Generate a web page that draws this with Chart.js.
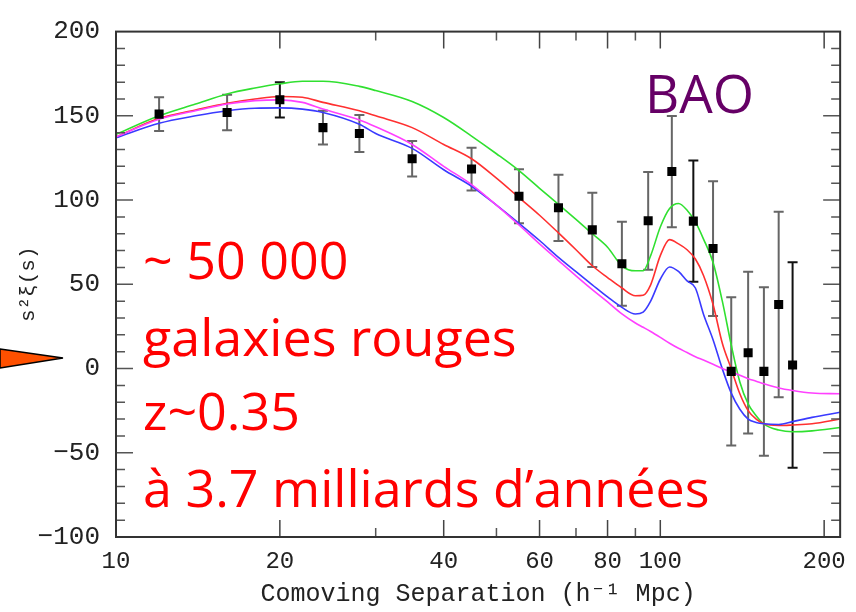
<!DOCTYPE html>
<html>
<head>
<meta charset="utf-8">
<script src="https://cdn.jsdelivr.net/npm/chart.js@4/dist/chart.umd.min.js"></script>
<style>
  html, body { margin: 0; padding: 0; background: #fff; }
  #wrap { position: relative; width: 856px; height: 612px; }
  #wrap canvas { position: absolute; left: 0; top: 0; }
  #overlay { position: absolute; left: 0; top: 0; pointer-events: none; }
</style>
</head>
<body>
<div id="wrap">
  <canvas id="c" width="856" height="612"></canvas>
  <svg id="overlay" width="856" height="612" xmlns="http://www.w3.org/2000/svg">
    <polygon points="0,349 63,358 0,368" fill="#ff5000" stroke="#000" stroke-width="1.5"/>
    <g font-family="'Open Sans', sans-serif" font-size="52" fill="#ff0000">
      <text x="143" y="279">~ 50 000</text>
      <text x="143" y="356">galaxies rouges</text>
      <text x="143" y="430">z~0.35</text>
      <text x="143" y="507">à 3.7 milliards d’années</text>
    </g>
    <text x="645" y="113" font-family="'Open Sans', sans-serif" font-size="53" fill="#660066">BAO</text>
  </svg>
</div>
<script>
// ---- data ----
const pointX   = [12, 16, 20, 24, 28, 35, 45, 55, 65, 75, 85, 95, 105, 115, 125, 135, 145, 155, 165, 175];
const pointY   = [151, 152, 159.5, 143, 139.5, 124.5, 118.4, 102.3, 95.4, 82.3, 62.2, 87.7, 116.9, 87.5, 71.2, -1.7, 9.4, -1.7, 38, 2.1];
const pointErr = [10, 10.5, 10.5, 10, 11, 10.5, 12.7, 16, 19.7, 22, 25, 29, 33, 36, 40, 44, 48, 50, 55, 61];

const curveX = [10, 12, 14, 16, 18, 20, 22, 24, 28, 30, 35, 40, 45, 50, 55, 60, 65, 70, 75, 80, 85, 90, 93, 96, 100, 104, 108, 112, 116, 120, 125, 130, 135, 140, 145, 150, 155, 165, 175, 190, 214];
const greenY = [139, 150, 157, 163, 166.5, 169, 170.5, 170.5, 167.5, 165, 158.5, 149, 138, 127.5, 117.5, 107, 97.5, 88.5, 80, 72, 61, 58, 58, 67, 84, 95, 98, 94, 87, 77, 63, 40, 14, -8, -21, -28, -33, -36.5, -37.5, -37, -35];
const redY   = [137.5, 148.5, 153.5, 157.5, 160, 161.5, 161, 158, 153, 150, 143, 133, 124.5, 113, 101.5, 91, 80.5, 70.5, 61, 54, 47.8, 43.2, 43.5, 49.7, 67, 76.5, 74, 70.5, 65, 55.4, 38, 15, -0.2, -15, -25, -30, -32.8, -33.8, -33.5, -32.8, -30];
const blueY  = [137, 145.6, 150, 153, 154.5, 154.7, 154, 152, 145, 139.5, 130.7, 118, 108.2, 97, 86.2, 76, 66, 57.5, 49.7, 42.5, 36.3, 32.4, 33.5, 40, 53, 60.3, 57.6, 52, 47.8, 32.4, 17.1, -0.2, -14.6, -24.2, -30, -32, -32.8, -33.2, -31.5, -29, -26];
const magY   = [137.5, 148, 153, 157, 159, 159.5, 158, 154, 147.5, 143.5, 133, 120, 109.2, 97, 85.2, 74, 64.1, 55, 46.8, 39.5, 32.4, 27, 24.5, 22, 18.5, 15, 12, 9.5, 7, 5, 2.5, 0, -2, -4, -6, -7.5, -9, -11.5, -13, -14.5, -15];

const xTicks = [10, 20, 40, 60, 80, 100, 200];
const xMinorTicks = [30, 50, 70, 90];
const yTicks = [-100, -50, 0, 50, 100, 150, 200];
const yMinorTicks = [-90, -80, -70, -60, -40, -30, -20, -10, 10, 20, 30, 40, 60, 70, 80, 90, 110, 120, 130, 140, 160, 170, 180, 190];

// ---- helpers ----
const pts = (xs, ys) => xs.map((v, i) => ({ x: v, y: ys[i] }));
const minus = v => String(v).replace('-', '\u2212');

const errorBars = {
  id: 'errorBars',
  beforeDatasetsDraw(chart) {
    const { ctx, scales: { x, y } } = chart;
    ctx.save();
    ctx.lineWidth = 2;
    pointX.forEach((xv, i) => {
      const px = x.getPixelForValue(xv);
      const y1 = y.getPixelForValue(pointY[i] + pointErr[i]);
      const y2 = y.getPixelForValue(pointY[i] - pointErr[i]);
      ctx.strokeStyle = (xv === 115 || xv === 175 || xv === 20) ? '#111' : '#666';
      ctx.beginPath();
      ctx.moveTo(px, y1); ctx.lineTo(px, y2);
      ctx.moveTo(px - 5, y1); ctx.lineTo(px + 5, y1);
      ctx.moveTo(px - 5, y2); ctx.lineTo(px + 5, y2);
      ctx.stroke();
    });
    ctx.restore();
  }
};

const frameTicks = {
  id: 'frameTicks',
  afterDraw(chart) {
    const { ctx, chartArea: a, scales: { x, y } } = chart;
    ctx.save();
    ctx.lineWidth = 1.5;
    const major = 17, minor = 9;
    const vt = (vals, len, color) => {
      ctx.strokeStyle = color;
      ctx.beginPath();
      vals.forEach(v => {
        const px = x.getPixelForValue(v);
        if (px <= a.left + 1 || px >= a.right - 1) return;
        ctx.moveTo(px, a.bottom); ctx.lineTo(px, a.bottom - len);
        ctx.moveTo(px, a.top); ctx.lineTo(px, a.top + len);
      });
      ctx.stroke();
    };
    const ht = (vals, len, color) => {
      ctx.strokeStyle = color;
      ctx.beginPath();
      vals.forEach(v => {
        const py = y.getPixelForValue(v);
        if (py <= a.top + 1 || py >= a.bottom - 1) return;
        ctx.moveTo(a.left, py); ctx.lineTo(a.left + len, py);
        ctx.moveTo(a.right, py); ctx.lineTo(a.right - len, py);
      });
      ctx.stroke();
    };
    vt(xTicks, major, '#444');
    vt(xMinorTicks, minor, '#555');
    ht(yTicks, major, '#555');
    ht(yMinorTicks, minor, '#555');
    ctx.lineWidth = 2;
    ctx.strokeStyle = '#333';
    ctx.strokeRect(a.left, a.top, a.right - a.left, a.bottom - a.top);
    ctx.restore();
  }
};

const lineDs = (label, ys, color) => ({
  type: 'line', label, data: pts(curveX, ys),
  borderColor: color, borderWidth: 1.6, pointRadius: 0,
  cubicInterpolationMode: 'monotone', fill: false
});

new Chart(document.getElementById('c'), {
  data: {
    datasets: [
      { type: 'scatter', label: 'data', data: pts(pointX, pointY),
        pointStyle: 'rect', pointRadius: 6.4, backgroundColor: '#000', borderColor: '#000', borderWidth: 0 },
      lineDs('magenta', magY, '#ff40ff'),
      lineDs('blue', blueY, '#3a3aff'),
      lineDs('red', redY, '#ff3030'),
      lineDs('green', greenY, '#30e030')
    ]
  },
  options: {
    responsive: false,
    animation: false,
    events: [],
    layout: { padding: { top: 16, right: 11, left: 0, bottom: 0 } },
    plugins: { legend: { display: false }, tooltip: { enabled: false } },
    scales: {
      x: {
        type: 'logarithmic', min: 10, max: 214,
        grid: { display: false, drawTicks: false },
        border: { display: false },
        afterBuildTicks: s => { s.ticks = xTicks.map(v => ({ value: v })); },
        afterFit: s => { s.height = 75; },
        ticks: { autoSkip: false, maxRotation: 0, padding: 10, color: '#222',
          font: { family: "'Liberation Mono', monospace", size: 24 },
          callback: v => String(v) },
        title: { display: true, text: 'Comoving Separation (h\u207B\u00B9 Mpc)', color: '#222',
          font: { family: "'Liberation Mono', monospace", size: 25 }, padding: { top: 0, bottom: 3 } }
      },
      y: {
        type: 'linear', min: -100, max: 200,
        grid: { display: false, drawTicks: false },
        border: { display: false },
        afterBuildTicks: s => { s.ticks = yTicks.map(v => ({ value: v })); },
        afterFit: s => { s.width = 116; },
        ticks: { padding: 16, color: '#222',
          font: { family: "'Liberation Mono', monospace", size: 26 },
          callback: v => minus(v) },
        title: { display: true, text: 's\u00B2\u03BE(s)', color: '#222',
          font: { family: "'Liberation Mono', monospace", size: 21 }, padding: { top: 16, bottom: 0 } }
      }
    }
  },
  plugins: [errorBars, frameTicks]
});
</script>
</body>
</html>
